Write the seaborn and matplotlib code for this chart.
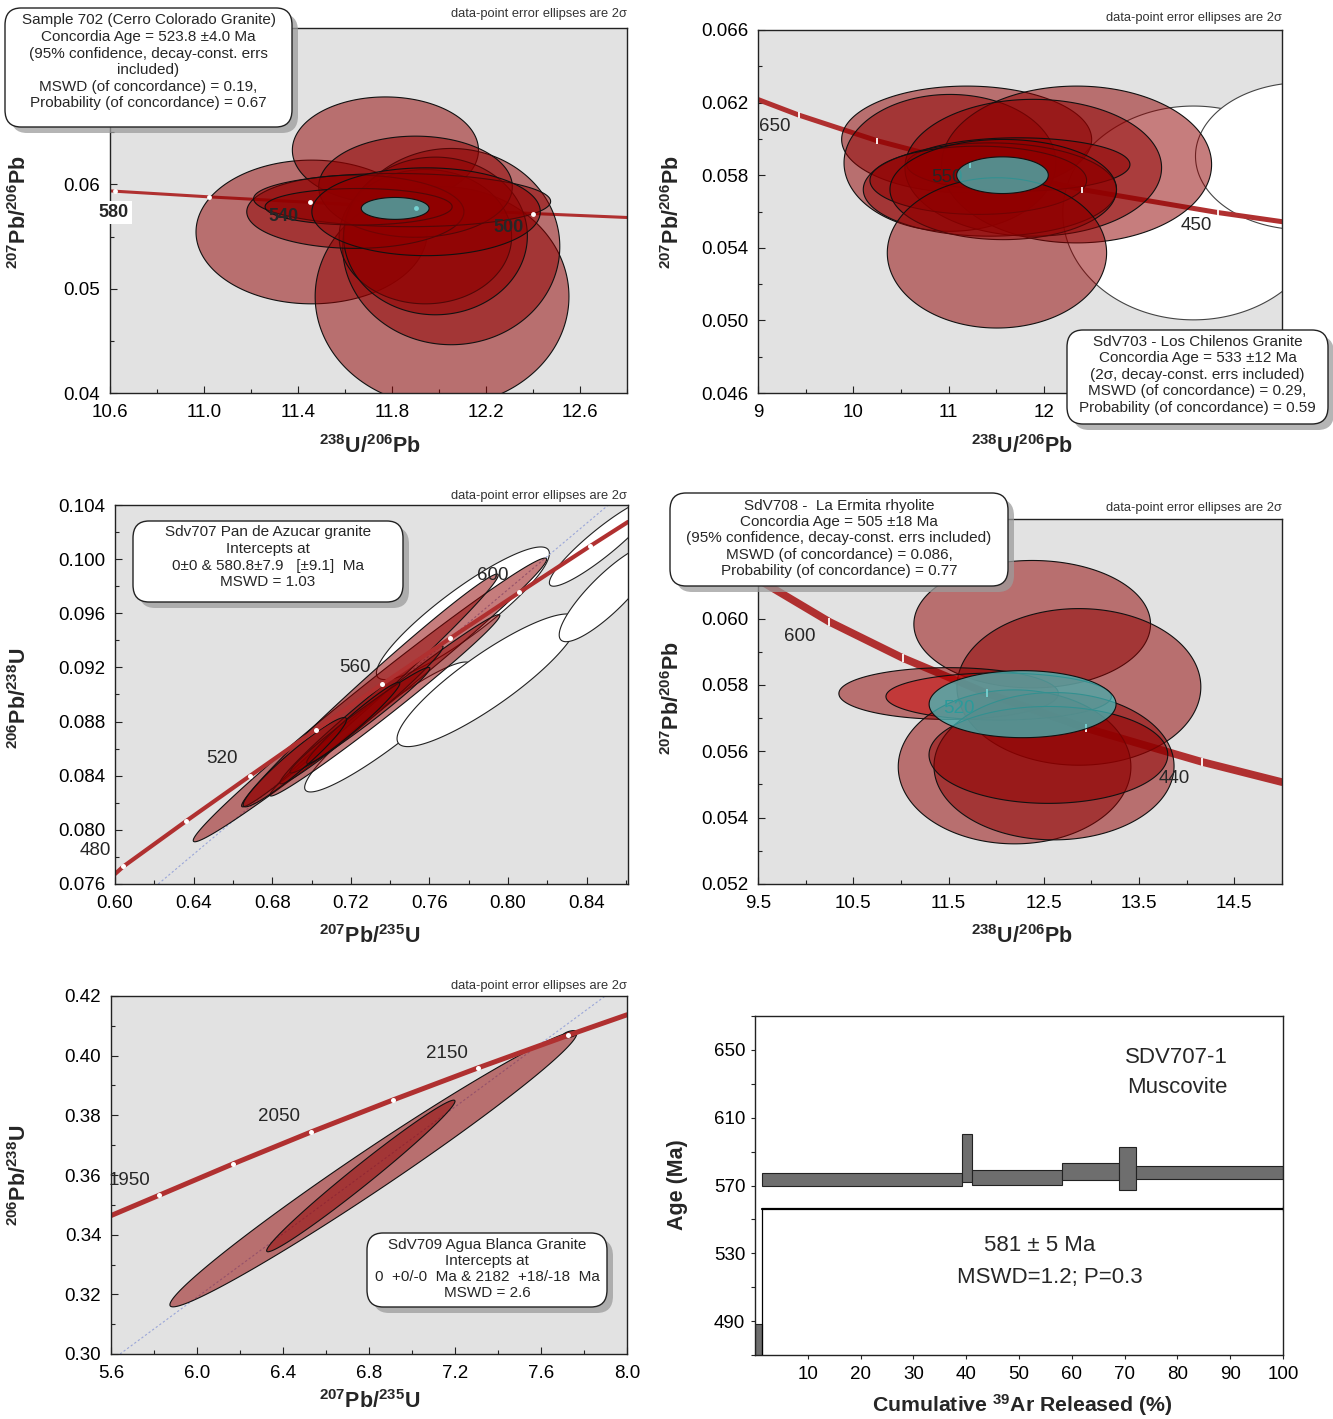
import numpy as np
import matplotlib
matplotlib.use("Agg")
import matplotlib.pyplot as plt
import seaborn as sns
from matplotlib.patches import FancyBboxPatch
from matplotlib.ticker import FixedLocator, FixedFormatter

# ------------------------------------------------------------------ data
# Panel 1 (Tera-Wasserburg, sample 702)
P1_CONC_X = [10.60, 11.02, 11.45, 11.90, 12.40, 12.80]
P1_CONC_Y = [0.05938, 0.05881, 0.05828, 0.05775, 0.05721, 0.05683]
P1_TICK_X = [10.62, 11.02, 11.45, 11.90, 12.40]
P1_TICK_Y = [0.05935, 0.05881, 0.05828, 0.05775, 0.05721]
P1_AGE_LABELS = ["580", "540", "500"]
P1_AGE_LX = [10.617, 11.337, 12.297]
P1_AGE_LY = [0.05732, 0.05694, 0.05589]
P1_RED_CX = [11.458, 11.772, 12.013, 12.052, 11.942, 11.985, 11.900, 11.644, 11.843, 11.658, 11.945]
P1_RED_CY = [0.05544, 0.06329, 0.04925, 0.05404, 0.05499, 0.05506, 0.05978, 0.05738, 0.05850, 0.05786, 0.05738]
P1_RED_SX = [0.492, 0.396, 0.540, 0.462, 0.367, 0.391, 0.412, 0.462, 0.632, 0.398, 0.486]
P1_RED_SY = [0.00689, 0.00510, 0.01053, 0.00941, 0.00644, 0.00756, 0.00485, 0.00351, 0.00255, 0.00175, 0.00421]
P1_RED_RHO = [0.0, 0.0, 0.0, 0.0, 0.0, 0.0, 0.0, 0.0, -0.05, 0.0, 0.0]
P1_AGE_ELL = [11.8135, 0.05770, 0.1442, 0.00105, 0.0]

# Panel 2 (Tera-Wasserburg, SdV703)
P2_CONC_X = [9.00, 9.43, 10.25, 11.23, 12.40, 13.83, 14.50]
P2_CONC_Y = [0.06217, 0.06131, 0.05990, 0.05855, 0.05721, 0.05594, 0.05544]
P2_TICK_X = [9.43, 10.25, 11.23, 12.40, 13.83]
P2_TICK_Y = [0.06131, 0.05990, 0.05855, 0.05721, 0.05594]
P2_AGE_LABELS = ["650", "550", "450"]
P2_AGE_LX = [9.18, 10.98, 13.60]
P2_AGE_LY = [0.0607, 0.05786, 0.05524]
P2_WHITE_CX = [13.571, 14.717]
P2_WHITE_CY = [0.05592, 0.05905]
P2_WHITE_SX = [1.372, 1.125]
P2_WHITE_SY = [0.00589, 0.00405]
P2_WHITE_RHO = [0.0, 0.0]
P2_RED_CX = [11.190, 11.015, 12.344, 11.889, 11.732, 11.434, 11.312, 11.574, 11.508]
P2_RED_CY = [0.05997, 0.05868, 0.05859, 0.05841, 0.05859, 0.05721, 0.05772, 0.05721, 0.05372]
P2_RED_SX = [1.312, 1.112, 1.417, 1.347, 1.172, 1.329, 1.137, 1.189, 1.151]
P2_RED_SY = [0.00294, 0.00377, 0.00432, 0.00377, 0.00147, 0.00257, 0.00188, 0.00276, 0.00414]
P2_RED_RHO = [0.0, 0.0, 0.0, 0.0, 0.0, 0.0, 0.0, 0.0, 0.0]
P2_AGE_ELL = [11.566, 0.05800, 0.481, 0.00101, 0.0]

# Panel 3 (Wetherill, Sdv707)
P3_CONC_X = [0.600, 0.6043, 0.6362, 0.6688, 0.7021, 0.7359, 0.7704, 0.8057, 0.8417, 0.861]
P3_CONC_Y = [0.07674, 0.07730, 0.08065, 0.08400, 0.08738, 0.09076, 0.09414, 0.09754, 0.10096, 0.10275]
P3_TICK_X = [0.6043, 0.6362, 0.6688, 0.7021, 0.7359, 0.7704, 0.8057, 0.8417]
P3_TICK_Y = [0.07730, 0.08065, 0.08400, 0.08738, 0.09076, 0.09414, 0.09754, 0.10096]
P3_AGE_LABELS = ["480", "520", "560", "600"]
P3_AGE_LX = [0.590, 0.6545, 0.722, 0.792]
P3_AGE_LY = [0.0785, 0.0853, 0.0920, 0.0988]
P3_DISC_X = [0.622, 0.851]
P3_DISC_Y = [0.076, 0.104]
P3_WHITE_CX = [0.7770, 0.7389, 0.7895, 0.848, 0.851]
P3_WHITE_CY = [0.09600, 0.0876, 0.09105, 0.10125, 0.0975]
P3_WHITE_SX = [0.0440, 0.0424, 0.046, 0.027, 0.025]
P3_WHITE_SY = [0.00490, 0.0048, 0.00490, 0.00325, 0.0036]
P3_WHITE_RHO = [0.90, 0.93, 0.88, 0.92, 0.86]
P3_RED_CX = [0.7297, 0.7297, 0.7373, 0.7254, 0.7246, 0.7212, 0.6915]
P3_RED_CY = [0.0896, 0.0903, 0.0892, 0.0885, 0.0881, 0.0879, 0.0850]
P3_RED_SX = [0.0899, 0.0653, 0.0585, 0.0415, 0.0356, 0.0237, 0.0263]
P3_RED_SY = [0.01048, 0.0086, 0.0067, 0.0051, 0.0039, 0.0030, 0.0033]
P3_RED_RHO = [0.9908, 0.9903, 0.990, 0.985, 0.982, 0.973, 0.955]

# Panel 4 (Tera-Wasserburg, SdV708)
P4_CONC_X = [9.50, 10.25, 11.02, 11.90, 12.94, 14.16, 15.00]
P4_CONC_Y = [0.06118, 0.05990, 0.05881, 0.05775, 0.05670, 0.05568, 0.05507]
P4_TICK_X = [10.25, 11.02, 11.90, 12.94, 14.16]
P4_TICK_Y = [0.05990, 0.05881, 0.05775, 0.05670, 0.05568]
P4_AGE_LABELS = ["600", "520", "440"]
P4_AGE_LX = [9.94, 11.61, 13.87]
P4_AGE_LY = [0.05946, 0.0573, 0.05519]
P4_RED_CX = [12.378, 12.868, 11.501, 12.026, 12.193, 12.607, 12.548]
P4_RED_CY = [0.05983, 0.05794, 0.05774, 0.05765, 0.05553, 0.05555, 0.05589]
P4_RED_SX = [1.242, 1.280, 1.152, 1.183, 1.221, 1.260, 1.253]
P4_RED_SY = [0.00192, 0.00236, 0.00078, 0.00071, 0.00232, 0.00222, 0.00146]
P4_RED_RHO = [0.0, 0.0, 0.0, 0.0, 0.0, 0.0, 0.0]
P4_AGE_ELL = [12.277, 0.05742, 0.981, 0.00101, 0.0]

# Panel 5 (Wetherill, SdV709)
P5_CONC_X = [5.600, 5.824, 6.169, 6.530, 6.910, 7.305, 7.724, 8.000]
P5_CONC_Y = [0.3464, 0.35322, 0.36377, 0.37440, 0.38511, 0.39585, 0.40676, 0.4137]
P5_TICK_X = [5.824, 6.169, 6.530, 6.910, 7.305, 7.724]
P5_TICK_Y = [0.35322, 0.36377, 0.37440, 0.38511, 0.39585, 0.40676]
P5_AGE_LABELS = ["1950", "2050", "2150"]
P5_AGE_LX = [5.688, 6.381, 7.163]
P5_AGE_LY = [0.3580, 0.3797, 0.4008]
P5_DISC_X = [5.642, 7.899]
P5_DISC_Y = [0.30, 0.42]
P5_RED_CX = [6.820, 6.762, 7.735]
P5_RED_CY = [0.3619, 0.35968, 0.4072]
P5_RED_SX = [0.946, 0.438, 0.035]
P5_RED_SY = [0.0461, 0.02541, 0.0012]
P5_RED_RHO = [0.9845, 0.9856, 0.5]

# Panel 6 (Ar-Ar step heating, SDV707-1 muscovite)
STEP_LEFT = [0.0, 1.3, 39.2, 41.1, 58.1, 68.9, 72.1]
STEP_RIGHT = [1.3, 39.2, 41.1, 58.1, 68.9, 72.1, 100.0]
STEP_AGE = [460.0, 573.5, 586.3, 574.7, 578.5, 580.1, 577.6]
STEP_ERR = [28.0, 3.8, 14.3, 4.6, 5.0, 12.5, 3.7]
PLATEAU_X = [1.3, 100.0]
PLATEAU_AGE = 556.4

# tick values / labels (labels hidden under the annotation boxes are left blank)
P1_XT = [10.6, 11.0, 11.4, 11.8, 12.2, 12.6]; P1_XL = ["10.6", "11.0", "11.4", "11.8", "12.2", "12.6"]
P1_YT = [0.04, 0.05, 0.06, 0.07]; P1_YL = ["0.04", "0.05", "0.06", ""]
P2_XT = [9, 10, 11, 12, 13, 14]; P2_XL = ["9", "10", "11", "12", "", ""]
P2_YT = [0.046, 0.050, 0.054, 0.058, 0.062, 0.066]; P2_YL = ["0.046", "0.050", "0.054", "0.058", "0.062", "0.066"]
P3_XT = [0.60, 0.64, 0.68, 0.72, 0.76, 0.80, 0.84]; P3_XL = ["0.60", "0.64", "0.68", "0.72", "0.76", "0.80", "0.84"]
P3_YT = [0.076, 0.080, 0.084, 0.088, 0.092, 0.096, 0.100, 0.104]
P3_YL = ["0.076", "0.080", "0.084", "0.088", "0.092", "0.096", "0.100", "0.104"]
P4_XT = [9.5, 10.5, 11.5, 12.5, 13.5, 14.5]; P4_XL = ["9.5", "10.5", "11.5", "12.5", "13.5", "14.5"]
P4_YT = [0.052, 0.054, 0.056, 0.058, 0.060, 0.062]; P4_YL = ["0.052", "0.054", "0.056", "0.058", "0.060", ""]
P5_XT = [5.6, 6.0, 6.4, 6.8, 7.2, 7.6, 8.0]; P5_XL = ["5.6", "6.0", "6.4", "6.8", "7.2", "7.6", "8.0"]
P5_YT = [0.30, 0.32, 0.34, 0.36, 0.38, 0.40, 0.42]; P5_YL = ["0.30", "0.32", "0.34", "0.36", "0.38", "0.40", "0.42"]
P6_XT = [10, 20, 30, 40, 50, 60, 70, 80, 90, 100]; P6_XL = [str(v) for v in P6_XT]
P6_YT = [490, 530, 570, 610, 650]; P6_YL = [str(v) for v in P6_YT]

BOX1 = ["Sample 702 (Cerro Colorado Granite)", "Concordia Age = 523.8 \u00b14.0 Ma",
        "(95% confidence, decay-const. errs", "included)",
        "MSWD (of concordance) = 0.19,", "Probability (of concordance) = 0.67"]
BOX2 = ["SdV703 - Los Chilenos Granite", "Concordia Age = 533 \u00b112 Ma",
        "(2\u03c3, decay-const. errs included)", "MSWD (of concordance) = 0.29,",
        "Probability (of concordance) = 0.59"]
BOX3 = ["Sdv707 Pan de Azucar granite", "Intercepts at",
        "0\u00b10 & 580.8\u00b17.9   [\u00b19.1]  Ma", "MSWD = 1.03"]
BOX4 = ["SdV708 -  La Ermita rhyolite", "Concordia Age = 505 \u00b118 Ma",
        "(95% confidence, decay-const. errs included)", "MSWD (of concordance) = 0.086,",
        "Probability (of concordance) = 0.77"]
BOX5 = ["SdV709 Agua Blanca Granite", "Intercepts at",
        "0  +0/-0  Ma & 2182  +18/-18  Ma", "MSWD = 2.6"]

# ------------------------------------------------------------------ style
W, H = 1333, 1419
sns.set_theme(style="ticks")
plt.rcParams["font.family"] = ["Liberation Sans", "DejaVu Sans"]
plt.rcParams["mathtext.fontset"] = "custom"
plt.rcParams["mathtext.rm"] = "Liberation Sans"
plt.rcParams["mathtext.bf"] = "Liberation Sans:bold"
plt.rcParams["mathtext.it"] = "Liberation Sans:italic"
plt.rcParams["mathtext.sf"] = "Liberation Sans"

BG = "#e2e2e2"
RED = (0.565, 0.0, 0.0, 0.51)
RED_BRIGHT = (0.80, 0.02, 0.02, 0.50)
CYAN = (0.25, 0.76, 0.76, 0.72)
CONC = "#b03030"
TICK_FS = 13.5

fig = plt.figure(figsize=(W / 100, H / 100), dpi=100)
fig.patch.set_facecolor("white")


def add_ax(l, r, t, b):
    return fig.add_axes([l / W, 1 - b / H, (r - l) / W, (b - t) / H])


def style(ax, xlim, ylim, xt, xl, yt, yl, xminor, yminor, bg=BG, direction="in"):
    ax.set_facecolor(bg)
    ax.set_xlim(xlim)
    ax.set_ylim(ylim)
    ax.xaxis.set_major_locator(FixedLocator(xt))
    ax.xaxis.set_major_formatter(FixedFormatter(xl))
    ax.yaxis.set_major_locator(FixedLocator(yt))
    ax.yaxis.set_major_formatter(FixedFormatter(yl))
    if xminor:
        ax.xaxis.set_minor_locator(FixedLocator(np.arange(xlim[0], xlim[1] + 1e-9, xminor)))
    if yminor:
        ax.yaxis.set_minor_locator(FixedLocator(np.arange(ylim[0], ylim[1] + 1e-9, yminor)))
    ax.tick_params(which="major", direction=direction, length=5, width=0.8,
                   labelsize=TICK_FS, colors="#222", labelcolor="black")
    ax.tick_params(axis="x", which="major", pad=8)
    ax.tick_params(axis="y", which="major", pad=7)
    ax.tick_params(which="minor", direction=direction, length=3, width=0.8, colors="#222")
    for s in ax.spines.values():
        s.set_visible(True)
        s.set_color("#222")
        s.set_linewidth(1.0)
    ax.set_xlabel("")
    ax.set_ylabel("")


def ellipse_xy(cx, cy, sx, sy, rho, n=260):
    t = np.linspace(0, 2 * np.pi, n)
    x = cx + sx * np.cos(t)
    y = cy + sy * (rho * np.cos(t) + np.sqrt(1 - rho ** 2) * np.sin(t))
    return x, y


def ellipses(ax, cxs, cys, sxs, sys_, rhos, fc, ec="#111", lw=0.8, z=2):
    for cx, cy, sx, sy, r in zip(cxs, cys, sxs, sys_, rhos):
        x, y = ellipse_xy(cx, cy, sx, sy, r)
        ax.fill(x, y, facecolor=fc, edgecolor=ec, linewidth=lw, zorder=z)


def concordia(ax, cx, cy, tx, ty, lw, z, marker="o", ms=4.0, mew=0.0):
    sns.lineplot(x=cx, y=cy, ax=ax, color=CONC, linewidth=lw, sort=False,
                 estimator=None, zorder=z)
    ax.plot(tx, ty, linestyle="none", marker=marker, markersize=ms, markeredgewidth=mew,
            color="white", markerfacecolor="white", markeredgecolor="white", zorder=3)


def labels(ax, lx, ly, texts, **kw):
    for x, y, s in zip(lx, ly, texts):
        ax.text(x, y, s, ha="center", va="center", **kw)


def axis_labels(ax, xlabel, ylabel, xpos, ypos, fs=15.5):
    fig.text(xpos[0] / W, 1 - xpos[1] / H, xlabel, ha="center", va="center",
             fontsize=fs, fontweight="bold")
    fig.text(ypos[0] / W, 1 - ypos[1] / H, ylabel, ha="center", va="center",
             rotation=90, fontsize=fs, fontweight="bold")


def note_box(x0, y0, x1, y1, lines, ys, fs=11):
    sh = FancyBboxPatch(((x0 + 6) / W, 1 - (y1 + 6) / H), (x1 - x0) / W, (y1 - y0) / H,
                        boxstyle="round,pad=0,rounding_size=0.012", transform=fig.transFigure,
                        facecolor="#9c9c9c", edgecolor="none", alpha=0.75, zorder=5)
    bx = FancyBboxPatch((x0 / W, 1 - y1 / H), (x1 - x0) / W, (y1 - y0) / H,
                        boxstyle="round,pad=0,rounding_size=0.012", transform=fig.transFigure,
                        facecolor="white", edgecolor="#222", linewidth=1.0, zorder=6)
    fig.add_artist(sh)
    fig.add_artist(bx)
    for s, yy in zip(lines, ys):
        fig.text((x0 + x1) / 2 / W, 1 - yy / H, s, ha="center", va="center",
                 fontsize=fs, zorder=7)


def err_note(xr, y):
    fig.text(xr / W, 1 - y / H, "data-point error ellipses are 2\u03c3", ha="right",
             va="center", fontsize=9.3, color="#333")


TW_X = r"$\mathbf{{}^{238}U/{}^{206}Pb}$"
TW_Y = r"$\mathbf{{}^{207}Pb/{}^{206}Pb}$"
WE_X = r"$\mathbf{{}^{207}Pb/{}^{235}U}$"
WE_Y = r"$\mathbf{{}^{206}Pb/{}^{238}U}$"

# ------------------------------------------------------------------ panel 1
ax1 = add_ax(110, 627, 28, 393)
style(ax1, (10.6, 12.8), (0.04, 0.075), P1_XT, P1_XL, P1_YT, P1_YL, 0.2, 0.005)
concordia(ax1, P1_CONC_X, P1_CONC_Y, P1_TICK_X, P1_TICK_Y, lw=2.2, z=1.5, ms=3.5)
ellipses(ax1, P1_RED_CX, P1_RED_CY, P1_RED_SX, P1_RED_SY, P1_RED_RHO, RED)
ellipses(ax1, [P1_AGE_ELL[0]], [P1_AGE_ELL[1]], [P1_AGE_ELL[2]], [P1_AGE_ELL[3]],
         [P1_AGE_ELL[4]], CYAN, z=4)
ax1.text(P1_AGE_LX[0], P1_AGE_LY[0], P1_AGE_LABELS[0], ha="center", va="center",
         fontsize=13, fontweight="bold", zorder=6,
         bbox=dict(boxstyle="square,pad=0.15", facecolor="white", edgecolor="none"))
labels(ax1, P1_AGE_LX[1:], P1_AGE_LY[1:], P1_AGE_LABELS[1:], fontsize=13,
       fontweight="bold", zorder=6)
axis_labels(ax1, TW_X, TW_Y, (370, 447), (20, 212))
err_note(627, 14)

# ------------------------------------------------------------------ panel 2
ax2 = add_ax(758, 1282, 30, 393)
style(ax2, (9.0, 14.5), (0.046, 0.066), P2_XT, P2_XL, P2_YT, P2_YL, 0.5, 0.002)
ellipses(ax2, P2_WHITE_CX, P2_WHITE_CY, P2_WHITE_SX, P2_WHITE_SY, P2_WHITE_RHO,
         "white", ec="#444", z=1)
concordia(ax2, P2_CONC_X, P2_CONC_Y, P2_TICK_X, P2_TICK_Y, lw=3.6, z=1.5,
          marker="|", ms=5, mew=1.3)
ellipses(ax2, P2_RED_CX, P2_RED_CY, P2_RED_SX, P2_RED_SY, P2_RED_RHO, RED)
labels(ax2, P2_AGE_LX, P2_AGE_LY, P2_AGE_LABELS, fontsize=13.5, zorder=3.5)
ellipses(ax2, [P2_AGE_ELL[0]], [P2_AGE_ELL[1]], [P2_AGE_ELL[2]], [P2_AGE_ELL[3]],
         [P2_AGE_ELL[4]], CYAN, z=4)
axis_labels(ax2, TW_X, TW_Y, (1022, 447), (673, 212))
err_note(1282, 18)

# ------------------------------------------------------------------ panel 3
ax3 = add_ax(115, 628, 505, 884)
style(ax3, (0.60, 0.861), (0.076, 0.104), P3_XT, P3_XL, P3_YT, P3_YL, 0.02, 0.002)
sns.lineplot(x=P3_DISC_X, y=P3_DISC_Y, ax=ax3, color="#9aa6d8", linewidth=0.8,
             linestyle=(0, (2, 2)), zorder=1.2)
ellipses(ax3, P3_WHITE_CX, P3_WHITE_CY, P3_WHITE_SX, P3_WHITE_SY, P3_WHITE_RHO,
         "white", ec="#222", z=1)
ellipses(ax3, P3_RED_CX, P3_RED_CY, P3_RED_SX, P3_RED_SY, P3_RED_RHO, RED)
concordia(ax3, P3_CONC_X, P3_CONC_Y, P3_TICK_X, P3_TICK_Y, lw=3.0, z=2.5, ms=3.6)
labels(ax3, P3_AGE_LX, P3_AGE_LY, P3_AGE_LABELS, fontsize=13.5, zorder=6)
axis_labels(ax3, WE_X, WE_Y, (370, 937), (20, 698))
err_note(627, 496)

# ------------------------------------------------------------------ panel 4
ax4 = add_ax(758, 1282, 519, 884)
style(ax4, (9.5, 15.0), (0.052, 0.063), P4_XT, P4_XL, P4_YT, P4_YL, 0.5, 0.001)
concordia(ax4, P4_CONC_X, P4_CONC_Y, P4_TICK_X, P4_TICK_Y, lw=5.5, z=1.5,
          marker="|", ms=6, mew=1.3)
ellipses(ax4, P4_RED_CX[:3], P4_RED_CY[:3], P4_RED_SX[:3], P4_RED_SY[:3], P4_RED_RHO[:3], RED)
ellipses(ax4, P4_RED_CX[3:4], P4_RED_CY[3:4], P4_RED_SX[3:4], P4_RED_SY[3:4],
         P4_RED_RHO[3:4], RED_BRIGHT)
ellipses(ax4, P4_RED_CX[4:], P4_RED_CY[4:], P4_RED_SX[4:], P4_RED_SY[4:], P4_RED_RHO[4:], RED)
ellipses(ax4, [P4_AGE_ELL[0]], [P4_AGE_ELL[1]], [P4_AGE_ELL[2]], [P4_AGE_ELL[3]],
         [P4_AGE_ELL[4]], CYAN, z=4)
ax4.text(P4_AGE_LX[0], P4_AGE_LY[0], P4_AGE_LABELS[0], ha="center", va="center",
         fontsize=13.5, zorder=6)
ax4.text(P4_AGE_LX[1], P4_AGE_LY[1], P4_AGE_LABELS[1], ha="center", va="center",
         fontsize=13.5, color="#2c9a9a", zorder=6)
ax4.text(P4_AGE_LX[2], P4_AGE_LY[2], P4_AGE_LABELS[2], ha="center", va="center",
         fontsize=13.5, zorder=6)
axis_labels(ax4, TW_X, TW_Y, (1022, 937), (673, 698))
err_note(1282, 508)

# ------------------------------------------------------------------ panel 5
ax5 = add_ax(111, 627, 996, 1354)
style(ax5, (5.6, 8.0), (0.30, 0.42), P5_XT, P5_XL, P5_YT, P5_YL, 0.2, 0.01)
sns.lineplot(x=P5_DISC_X, y=P5_DISC_Y, ax=ax5, color="#9aa6d8", linewidth=0.8,
             linestyle=(0, (2, 2)), zorder=1.2)
ellipses(ax5, P5_RED_CX, P5_RED_CY, P5_RED_SX, P5_RED_SY, P5_RED_RHO, RED)
concordia(ax5, P5_CONC_X, P5_CONC_Y, P5_TICK_X, P5_TICK_Y, lw=3.6, z=2.5, ms=3.6)
labels(ax5, P5_AGE_LX, P5_AGE_LY, P5_AGE_LABELS, fontsize=13.5, zorder=6)
axis_labels(ax5, WE_X, WE_Y, (370, 1402), (20, 1175))
err_note(627, 986)

# ------------------------------------------------------------------ panel 6
ax6 = add_ax(755, 1283, 1016, 1355)
style(ax6, (0, 100), (470, 670), P6_XT, P6_XL, P6_YT, P6_YL, None, 20,
      bg="white", direction="out")
ax6.tick_params(which="major", length=3)
ax6.tick_params(axis="x", which="major", pad=5)
ax6.tick_params(axis="y", which="major", pad=4)
lefts = np.array(STEP_LEFT)
widths = np.array(STEP_RIGHT) - lefts
ages = np.array(STEP_AGE)
errs = np.array(STEP_ERR)
ax6.bar(lefts, 2 * errs, width=widths, bottom=ages - errs, align="edge",
        color="#6e6e6e", edgecolor="#222", linewidth=0.8, zorder=2)
sns.lineplot(x=PLATEAU_X, y=[PLATEAU_AGE, PLATEAU_AGE], ax=ax6, color="black",
             linewidth=1.6, zorder=3)
ax6.plot([PLATEAU_X[0], PLATEAU_X[0]], [470, PLATEAU_AGE], color="black", lw=0.9, zorder=3)
ax6.plot([PLATEAU_X[1], PLATEAU_X[1]], [PLATEAU_AGE - 1.5, PLATEAU_AGE + 1.5],
         color="black", lw=0.9, zorder=3)
ax6.text(79.9, 645.5, "SDV707-1", ha="center", va="center", fontsize=16)
ax6.text(79.9, 627.8, "Muscovite", ha="center", va="center", fontsize=16)
ax6.text(54.0, 534.8, "581 \u00b1 5 Ma", ha="center", va="center", fontsize=16)
ax6.text(55.9, 515.9, "MSWD=1.2; P=0.3", ha="center", va="center", fontsize=16)
fig.text(1022 / W, 1 - 1405 / H, r"Cumulative $\mathbf{{}^{39}}$Ar Released (%)",
         ha="center", va="center", fontsize=15.3, fontweight="bold")
fig.text(677 / W, 1 - 1185 / H, "Age (Ma)", ha="center", va="center", rotation=90,
         fontsize=15.5, fontweight="bold")

# ------------------------------------------------------------------ annotation boxes
note_box(5, 8, 292, 127, BOX1, [20, 37, 54, 70, 87, 103])
note_box(1067, 330, 1328, 424, BOX2, [342, 358, 375, 391, 408])
note_box(133, 521, 403, 602, BOX3, [532, 549, 566, 582])
note_box(670, 493, 1008, 586, BOX4, [506, 522, 538, 555, 571])
note_box(367, 1233, 607, 1307, BOX5, [1245, 1261, 1277, 1293])

fig.savefig("out.png", dpi=100, facecolor="white")
